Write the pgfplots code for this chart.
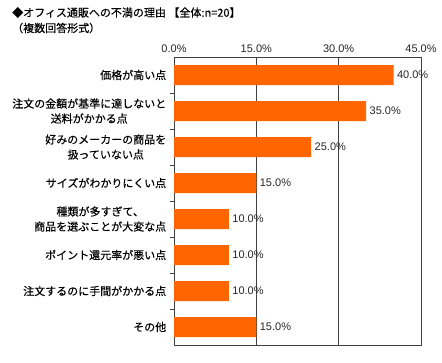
\documentclass[border=0pt]{standalone}
\usepackage{pgfplots}
\pgfplotsset{compat=1.18}
\usepackage{fontspec}
\setmainfont{Liberation Sans}
\newfontfamily\jp[FakeBold=0.3]{Noto Sans CJK JP}
\definecolor{barorange}{HTML}{FF6600}
\definecolor{axgray}{HTML}{404040}
\begin{document}
\begin{tikzpicture}[x=1bp,y=1bp]
\useasboundingbox (0,0) rectangle (442,362);
\node[anchor=west, font=\jp\fontsize{11bp}{13bp}\selectfont, inner sep=0] at (12,349.5) {◆オフィス通販への不満の理由 【全体:n=20】};
\node[anchor=west, font=\jp\fontsize{11bp}{13bp}\selectfont, inner sep=0] at (12,334) {（複数回答形式）};
\begin{axis}[
  at={(174bp,17bp)}, anchor=south west,
  scale only axis, width=247bp, height=288bp,
  /pgf/number format/assume math mode=true,
  xbar, bar width=20bp,
  xmin=0, xmax=45, ymin=-0.5, ymax=7.5, y dir=reverse,
  axis line style={draw=axgray, line width=0.6pt},
  xtick={0,15,30,45}, xticklabel pos=upper,
  xticklabel={\pgfmathprintnumber[fixed,fixed zerofill,precision=1]{\tick}\%},
  x tick label style={font=\fontsize{11bp}{13bp}\selectfont, text=black!85, yshift=-3bp},
  major x tick style={draw=none},
  xmajorgrids, grid style={draw=axgray, line width=0.6pt},
  ytick={0,...,7},
  yticklabels={価格が高い点,
    {注文の金額が基準に達しないと\\送料がかかる点},
    {好みのメーカーの商品を\\扱っていない点},
    サイズがわかりにくい点,
    {種類が多すぎて、\\商品を選ぶことが大変な点},
    ポイント還元率が悪い点,
    注文するのに手間がかかる点,
    その他},
  y tick label style={align=center, font=\jp\fontsize{11bp}{15bp}\selectfont},
  major y tick style={draw=none},
  minor ytick={0.5,1.5,...,6.5},
  minor y tick style={draw=axgray, line width=0.6pt},
  minor tick length=4bp,
  ytick pos=left, tick align=outside,
  nodes near coords={\pgfmathprintnumber[fixed,fixed zerofill,precision=1]{\pgfplotspointmeta}\%},
  nodes near coords style={anchor=west, font=\fontsize{11bp}{13bp}\selectfont, text=black!85},
]
\addplot[draw=none, fill=barorange] coordinates {
 (40,0) (35,1) (25,2) (15,3) (10,4) (10,5) (10,6) (15,7)};
\end{axis}
\end{tikzpicture}
\end{document}
